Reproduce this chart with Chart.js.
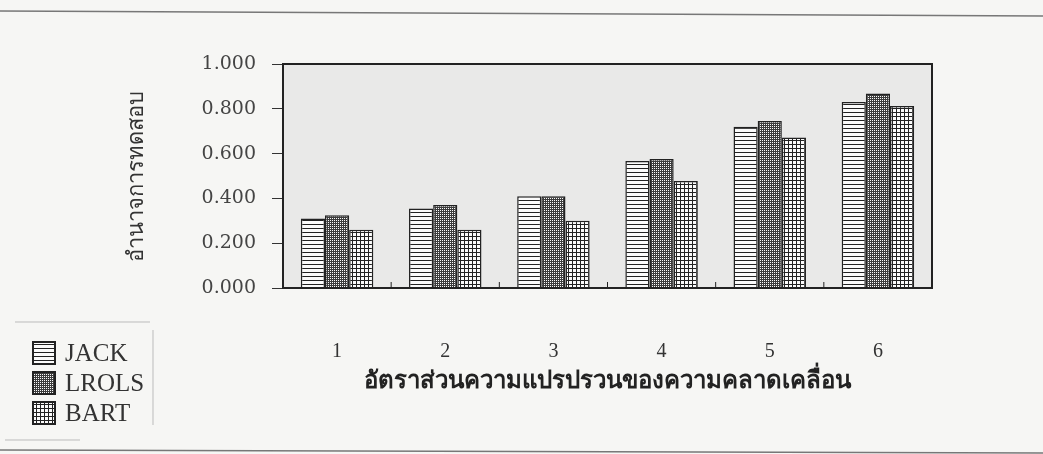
<!DOCTYPE html>
<html>
<head>
<meta charset="utf-8">
<script src="https://cdn.jsdelivr.net/npm/chart.js@4.4.1/dist/chart.umd.min.js"></script>
<style>
	html, body { margin: 0; padding: 0; background: #f6f6f4; }
	#wrap { width: 1043px; height: 454px; }
</style>
</head>
<body>
<div id="wrap"><canvas id="power-chart" width="1043" height="454"></canvas></div>
<script>
const categories = ["1", "2", "3", "4", "5", "6"];
const seriesNames = ["JACK", "LROLS", "BART"];
const jackValues = [0.31, 0.355, 0.41, 0.567, 0.72, 0.83];
const lrolsValues = [0.325, 0.37, 0.41, 0.576, 0.745, 0.868];
const bartValues = [0.26, 0.26, 0.30, 0.478, 0.672, 0.813];
const yTicks = [0, 0.2, 0.4, 0.6, 0.8, 1.0];

const xTitle = "อัตราส่วนความแปรปรวนของความคลาดเคลื่อน";
const yTitle = "อำนาจการทดสอบ";

// small tiles used as hatch fills
function makeTile(size, ink, paint) {
	const c = document.createElement("canvas");
	c.width = size;
	c.height = size;
	const g = c.getContext("2d");
	g.fillStyle = "#fbfbfb";
	g.fillRect(0, 0, size, size);
	g.fillStyle = ink;
	paint(g, size);
	return g.createPattern(c, "repeat");
}

const stripes = makeTile(4, "#222", (g, s) => g.fillRect(0, 0, s, 1));
// dark cross-hatch: everything dark except a lattice of light dots
const crossHatch = makeTile(4, "#3c3c3c", (g, s) => {
	for (let x = 0; x < s; x++) {
		for (let y = 0; y < s; y++) {
			if (!(x % 2 === 0 && y % 2 === 0)) g.fillRect(x, y, 1, 1);
		}
	}
});
const grid = makeTile(4, "#222", (g, s) => {
	g.fillRect(0, 0, s, 1);
	g.fillRect(0, 0, 1, s);
});

const fills = [stripes, crossHatch, grid];
const seriesValues = [jackValues, lrolsValues, bartValues];

// grey plot background plus a full box and the small category ticks
const frame = {
	id: "frame",
	beforeDraw(chart) {
		const { ctx, chartArea: a } = chart;
		ctx.save();
		ctx.fillStyle = "#e9e9e8";
		ctx.fillRect(a.left, a.top, a.right - a.left, a.bottom - a.top);
		// page rules
		ctx.strokeStyle = "#777";
		ctx.lineWidth = 1.5;
		ctx.beginPath();
		ctx.moveTo(0, 11);
		ctx.lineTo(1043, 16);
		ctx.moveTo(0, 450);
		ctx.lineTo(1043, 453);
		ctx.stroke();
		ctx.restore();
	},
	afterDraw(chart) {
		const { ctx, chartArea: a } = chart;
		const x = chart.scales.x;
		ctx.save();
		ctx.strokeStyle = "#222";
		ctx.lineWidth = 2;
		ctx.strokeRect(a.left, a.top, a.right - a.left, a.bottom - a.top);
		ctx.lineWidth = 1;
		ctx.beginPath();
		for (let i = 0; i < categories.length - 1; i++) {
			const px = (x.getPixelForValue(i) + x.getPixelForValue(i + 1)) / 2;
			ctx.moveTo(px, a.bottom);
			ctx.lineTo(px, a.bottom - 6);
		}
		ctx.stroke();
		ctx.restore();
	},
};

// legend in the lower left corner, drawn from the datasets
const cornerLegend = {
	id: "cornerLegend",
	afterDraw(chart) {
		const ctx = chart.ctx;
		ctx.save();
		ctx.strokeStyle = "#bbb";
		ctx.lineWidth = 1;
		ctx.beginPath();
		ctx.moveTo(15, 322);
		ctx.lineTo(150, 322);
		ctx.moveTo(153, 330);
		ctx.lineTo(153, 425);
		ctx.moveTo(5, 440);
		ctx.lineTo(80, 440);
		ctx.stroke();
		ctx.font = "25px 'Liberation Serif'";
		ctx.textBaseline = "middle";
		chart.data.datasets.forEach((ds, i) => {
			const cy = 353 + i * 30;
			ctx.fillStyle = ds.backgroundColor;
			ctx.fillRect(33, cy - 11, 22, 22);
			ctx.strokeStyle = "#222";
			ctx.lineWidth = 2;
			ctx.strokeRect(33, cy - 11, 22, 22);
			ctx.fillStyle = "#333";
			ctx.fillText(ds.label, 65, cy + 1);
		});
		ctx.restore();
	},
};

const powerChart = new Chart(document.getElementById("power-chart"), {
	type: "bar",
	data: {
		labels: categories,
		datasets: seriesNames.map((name, i) => ({
			label: name,
			data: seriesValues[i],
			backgroundColor: fills[i],
			borderColor: "#222",
			borderWidth: 1.5,
			categoryPercentage: 0.67,
			barPercentage: 1,
		})),
	},
	options: {
		responsive: false,
		animation: false,
		layout: {
			padding: { left: 120, right: 111, top: 64, bottom: 58 },
		},
		plugins: {
			legend: { display: false },
			tooltip: { enabled: false },
		},
		scales: {
			x: {
				afterFit: (s) => { s.height = 108; },
				grid: { display: false, drawTicks: false },
				border: { display: false },
				ticks: {
					padding: 52,
					color: "#333",
					font: { family: "Liberation Serif", size: 20 },
				},
				title: {
					display: true,
					text: xTitle,
					color: "#222",
					padding: 0,
					font: { size: 24, weight: "bold" },
				},
			},
			y: {
				min: 0,
				max: 1,
				afterFit: (s) => { s.width = 163; },
				afterBuildTicks: (s) => { s.ticks = yTicks.map((v) => ({ value: v })); },
				grid: { drawOnChartArea: false, tickLength: 11, color: "#333" },
				border: { display: false },
				ticks: {
					padding: 16,
					color: "#444",
					font: { family: "DejaVu Serif", size: 19 },
					callback: (v) => Number(v).toFixed(3),
				},
				title: {
					display: true,
					text: yTitle,
					color: "#333",
					padding: 4,
					font: { size: 22 },
				},
			},
		},
	},
	plugins: [frame, cornerLegend],
});
</script>
</body>
</html>
